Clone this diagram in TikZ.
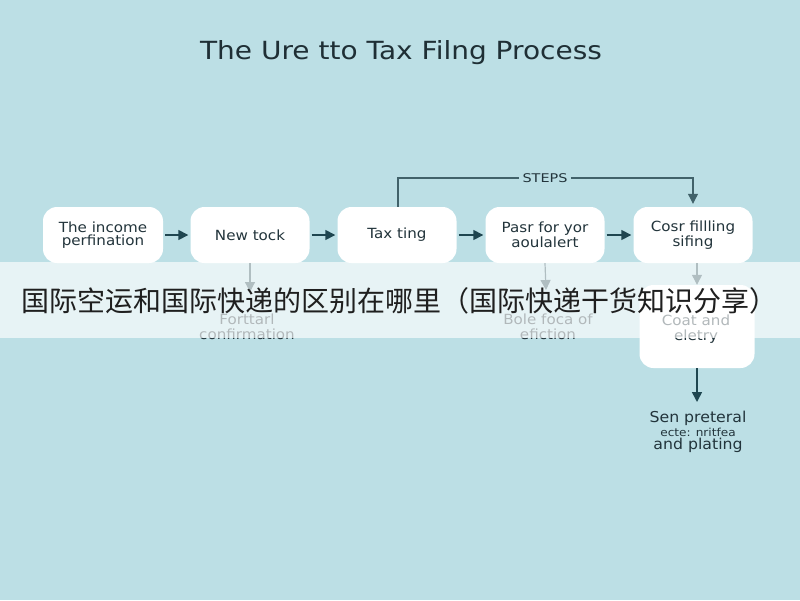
\documentclass[tikz,border=0pt]{standalone}
\usepackage{fontspec}
\usepackage{graphicx}
\setmainfont{DejaVu Sans}
\newfontfamily\cjk{Noto Sans CJK SC}
\usetikzlibrary{arrows.meta}
\definecolor{bg}{HTML}{BCDFE5}
\definecolor{ink}{HTML}{1F4650}
\definecolor{txt}{HTML}{22343B}
\newcommand{\wide}[2]{\scalebox{#1}[1]{#2}}
\tikzset{
  box/.style={fill=white, rounded corners=14pt, minimum width=119pt, minimum height=56pt,
    align=center, font=\fontsize{14}{13.5}\selectfont, text=txt, inner sep=0pt},
  link/.style={draw=ink, line width=1.6pt, -{Triangle[length=10pt,width=10pt]}},
  thin link/.style={draw=ink!85, line width=1.1pt, -{Triangle[length=10pt,width=10pt]}},
  plain/.style={align=center, font=\fontsize{14}{14.5}\selectfont, text=txt, inner sep=0pt},
}
\begin{document}
\begin{tikzpicture}[x=1pt,y=-1pt]
\fill[bg] (0,0) rectangle (800,600);
\useasboundingbox (0,0) rectangle (800,600);

\node[text=txt!90!black, font=\fontsize{25}{28}\selectfont] (title) at (401,53) {\wide{1.12}{The Ure tto Tax Filng Process}};

\node[box, minimum width=120pt] (b1) at (103,235) {\wide{1.08}{The income}\\\wide{1.08}{perfination}};
\node[box] (b2) at (250,235) {\wide{1.08}{New tock}};
\node[box] (b3) at (397,235) {\wide{1.08}{Tax ting}};
\node[box] (b4) at (545,235) {\wide{1.08}{Pasr for yor}\\\wide{1.08}{aoulalert}};
\node[box] (b5) at (693,235) {\wide{1.08}{Cosr fillling}\\\wide{1.08}{sifing}};
\node[box, minimum width=115pt, minimum height=83pt] (b6) at (697,326.5) {};

\foreach \a/\b in {b1/b2,b2/b3,b3/b4,b4/b5}
  \draw[link, shorten <=2pt, shorten >=2pt] (\a.east) -- (\b.west);

% STEPS loop
\node[font=\fontsize{12}{12}\selectfont, text=txt] (steps) at (545,178) {\wide{1.2}{STEPS}};
\coordinate (s1) at (398,178);
\coordinate (s2) at (693,178);
\draw[draw=ink!85, line width=1.1pt] (b3.north -| s1) -- (s1) -- (steps.west);
\draw[thin link, shorten >=3pt] (steps.east) -- (s2) -- (b5.north);

% down arrows
\coordinate (d2) at (250,292);
\coordinate (d4) at (546,290);
\draw[link, line width=1.2pt] (b2.south) -- (d2);
\draw[link, line width=1.2pt] (b4.south) -- (d4);
\draw[link, line width=1.2pt] (b5.south -| b6.north) -- (b6.north);
\node[plain] (t2) at (247,327) {\wide{1.08}{Forttarl}\\\wide{1.08}{confirmation}};
\node[plain] (t4) at (548,327) {\wide{1.08}{Bole foca of}\\\wide{1.08}{efiction}};
\node[plain] (t6) at (696,329) {\wide{1.08}{Coat and}\\\wide{1.08}{eletry}};

\coordinate (d6) at (697,402);
\draw[link] (b6.south) -- (d6);
\node[plain, font=\fontsize{15}{13.5}\selectfont] (t7) at (698,432) {\wide{1.05}{Sen preteral}\\{\fontsize{11}{13.5}\selectfont\wide{1.1}{ecte: nritfea}}\\\wide{1.05}{and plating}};

% overlay band
\fill[white, opacity=0.65] (0,262) rectangle (800,338);
\node[font=\cjk\fontsize{28}{30}\selectfont, text=black!88, inner sep=0pt] (cn) at (399,301) {国际空运和国际快递的区别在哪里（国际快递干货知识分享）};
\end{tikzpicture}
\end{document}
